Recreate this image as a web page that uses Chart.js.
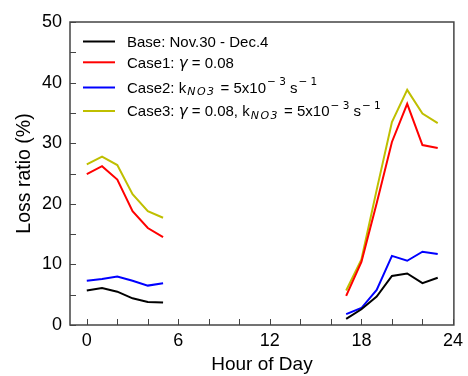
<!DOCTYPE html>
<html>
<head>
<meta charset="utf-8">
<script src="https://cdn.jsdelivr.net/npm/chart.js@4/dist/chart.umd.min.js"></script>
<style>
  html, body { margin: 0; padding: 0; background: #fff; }
  #wrap { width: 468px; height: 376px; position: relative; }
</style>
</head>
<body>
<div id="wrap"><canvas id="chart"></canvas></div>
<script>
// --- Datos ---
const HOURS = [0, 1, 2, 3, 4, 5, 17, 18, 19, 20, 21, 22, 23];
const BASE  = [5.7, 6.1, 5.5, 4.4, 3.8, 3.7, 1.0, 2.6, 4.7, 8.1, 8.5, 6.9, 7.8];
const CASE1 = [24.9, 26.2, 24.0, 18.8, 16.0, 14.5, 4.8, 10.4, 20.1, 30.2, 36.5, 29.7, 29.2];
const CASE2 = [7.3, 7.6, 8.0, 7.3, 6.5, 6.9, 1.8, 2.8, 5.8, 11.4, 10.6, 12.1, 11.7];
const CASE3 = [26.5, 27.8, 26.4, 21.6, 18.8, 17.7, 5.7, 10.8, 22.3, 33.5, 38.8, 34.9, 33.3];

const X_TICKS = [0, 6, 12, 18, 24];
const X_MINOR = [0, 2, 4, 6, 8, 10, 12, 14, 16, 18, 20, 22, 24];
const Y_TICKS = [0, 10, 20, 30, 40, 50];
const Y_MINOR = [0, 5, 10, 15, 20, 25, 30, 35, 40, 45, 50];

const FONT = "'Liberation Sans', Arial, sans-serif";
const MATH = "'DejaVu Sans', sans-serif";
const AXIS_COLOR = "#444";

// puntos con corte donde faltan horas
function toPoints(values) {
  const pts = [];
  HOURS.forEach((h, i) => {
    if (i > 0 && h - HOURS[i - 1] > 1) pts.push({ x: (h + HOURS[i - 1]) / 2, y: null });
    pts.push({ x: h, y: values[i] });
  });
  return pts;
}

// leyenda: trozos de texto (normal / sub / sup / italic)
const LEGEND = [
  { color: "#000000", y: 41.5, runs: [["Base: Nov.30 - Dec.4"]] },
  { color: "#ff0000", y: 62.3, runs: [["Case1: "], ["γ", "i"], [" = 0.08"]] },
  { color: "#0000ff", y: 87.5, runs: [["Case2: k"], ["NO3", "sub"], [" = 5x10"], ["− 3", "sup"], [" s"], ["− 1", "sup"]] },
  { color: "#bfbf00", y: 111, runs: [["Case3: "], ["γ", "i"], [" = 0.08, k"], ["NO3", "sub"], [" = 5x10"], ["− 3", "sup"], [" s"], ["− 1", "sup"]] },
];

const framePlugin = {
  id: "frame",
  afterDraw(chart) {
    const { ctx, chartArea: a, scales } = chart;
    const xs = scales.x, ys = scales.y;
    ctx.save();
    ctx.strokeStyle = AXIS_COLOR;
    ctx.lineWidth = 1.5;
    ctx.strokeRect(a.left, a.top, a.right - a.left, a.bottom - a.top);
    // ticks hacia dentro
    ctx.beginPath();
    X_MINOR.forEach(v => {
      const px = Math.round(xs.getPixelForValue(v)) + 0.5;
      ctx.moveTo(px, a.bottom);
      ctx.lineTo(px, a.bottom - 6);
    });
    Y_MINOR.forEach(v => {
      const py = Math.round(ys.getPixelForValue(v)) + 0.5;
      ctx.moveTo(a.left, py);
      ctx.lineTo(a.left + 6, py);
    });
    ctx.lineWidth = 1;
    ctx.stroke();

    // leyenda
    const lx0 = 83, lx1 = 115, tx = 127, size = 15;
    ctx.textBaseline = "alphabetic";
    LEGEND.forEach(item => {
      ctx.strokeStyle = item.color;
      ctx.lineWidth = 2;
      ctx.beginPath();
      ctx.moveTo(lx0, item.y);
      ctx.lineTo(lx1, item.y);
      ctx.stroke();
      let x = tx;
      const base = item.y + 5.3;
      ctx.fillStyle = "#000";
      item.runs.forEach(([txt, kind]) => {
        if (kind === "sub") {
          ctx.font = `italic 11px ${MATH}`;
          x += 1;
          for (const ch of txt) {
            ctx.fillText(ch, x, base + 2.5);
            x += ctx.measureText(ch).width + 1.5;
          }
          x += 0.8;
          return;
        }
        let dy = 0;
        if (kind === "sup") { ctx.font = `10.5px ${MATH}`; dy = -7.5; x += 1; }
        else if (kind === "i") { ctx.font = `italic ${size}px ${MATH}`; }
        else { ctx.font = `${size}px ${FONT}`; }
        ctx.fillText(txt, x, base + dy);
        x += ctx.measureText(txt).width;
      });
    });
    ctx.restore();
  }
};

function line(label, values, color) {
  return {
    label,
    data: toPoints(values),
    borderColor: color,
    backgroundColor: color,
    borderWidth: 2,
    pointRadius: 0,
    tension: 0,
    spanGaps: false,
    fill: false
  };
}

new Chart(document.getElementById("chart"), {
  type: "line",
  data: {
    datasets: [
      line("Base", BASE, "#000000"),
      line("Case1", CASE1, "#ff0000"),
      line("Case2", CASE2, "#0000ff"),
      line("Case3", CASE3, "#bfbf00"),
    ]
  },
  options: {
    responsive: true,
    maintainAspectRatio: false,
    animation: false,
    layout: { padding: { top: 22, right: 10, left: 0, bottom: 0 } },
    plugins: { legend: { display: false }, tooltip: { enabled: false } },
    scales: {
      x: {
        type: "linear",
        min: -1.1,
        max: 24.06,
        grid: { display: false, drawTicks: false },
        border: { display: false },
        afterBuildTicks: s => { s.ticks = X_TICKS.map(v => ({ value: v })); },
        afterFit: s => { s.height = 51; },
        ticks: { color: "#000", padding: 5, font: { family: FONT, size: 18 }, maxRotation: 0 },
        title: { display: true, text: "Hour of Day", color: "#000", padding: 0, font: { family: FONT, size: 19 } }
      },
      y: {
        min: 0,
        max: 50,
        grid: { display: false, drawTicks: false },
        border: { display: false },
        afterBuildTicks: s => { s.ticks = Y_TICKS.map(v => ({ value: v })); },
        afterFit: s => { s.width = 70; },
        ticks: { color: "#000", padding: 8, font: { family: FONT, size: 18 } },
        title: { display: true, text: "Loss ratio (%)", color: "#000", padding: { top: 13, bottom: 0 }, font: { family: FONT, size: 19.5 } }
      }
    }
  },
  plugins: [framePlugin]
});
</script>
</body>
</html>
